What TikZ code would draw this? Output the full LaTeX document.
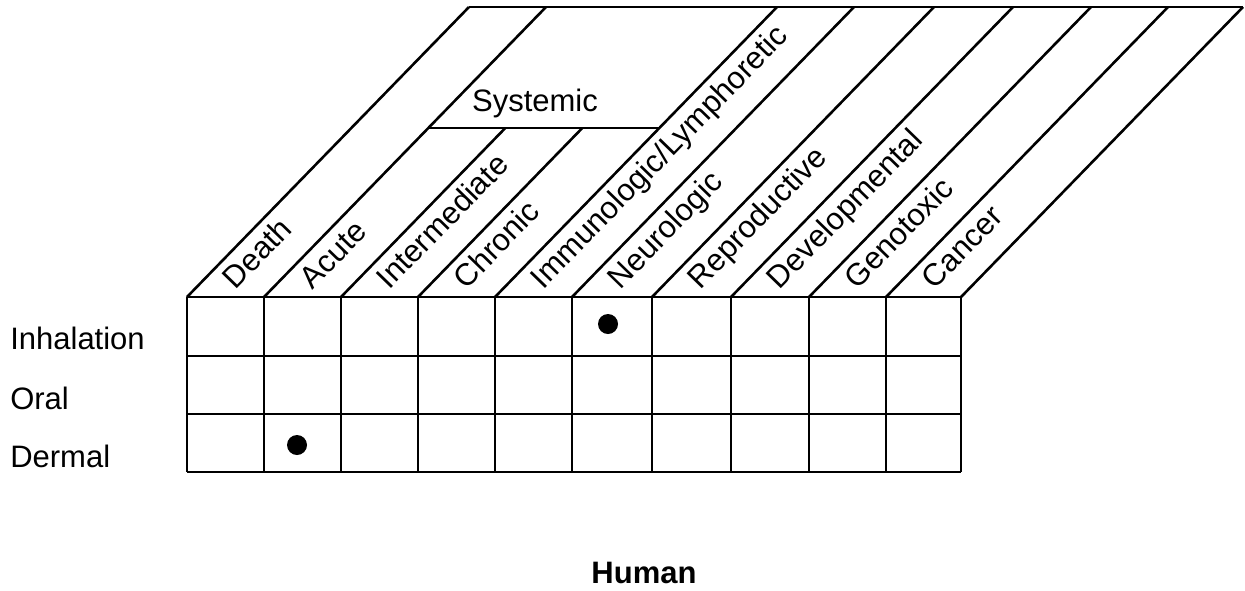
\documentclass[tikz,border=0pt]{standalone}
\usepackage{fontspec}
\setmainfont{Liberation Sans}
\begin{document}
\begin{tikzpicture}[x=0.5pt,y=-0.5pt,line width=1.3pt,
    txt/.style={inner sep=0pt,font=\fontsize{15.5}{18}\selectfont},
    collbl/.style={txt,anchor=base west,rotate=45.8},
    rowlbl/.style={txt,anchor=base west},
    dot/.style={circle,fill,inner sep=0pt,minimum size=10pt}]
  \useasboundingbox (0,0) rectangle (1245,590);
  % grid
  \foreach \y in {297,356,414,472}
    \draw (187,\y) -- (961,\y);
  \foreach \x in {187,264,341,418,495,572,652,731,809,886,961}
    \draw (\x,297) -- (\x,472);
  % slanted head
  \foreach \x in {187,264,495,572,652,731,809,886,961}
    \draw (\x,297) -- (\x+282,7);
  \foreach \x in {341,418}
    \draw (\x,297) -- (\x+164.3,128);
  \draw (469,7) -- (1243,7);
  \draw (428.3,128) -- (659.3,128);
  \node[txt,anchor=base] (sys) at (535,111) {Systemic};
  \foreach \x/\t/\n in {187/Death/death,264/Acute/acute,341/Intermediate/inter,
      418/Chronic/chron,495/Immunologic\slash Lymphoretic/immuno,572/Neurologic/neuro,
      652/Reproductive/repro,731/Developmental/devel,809/Genotoxic/geno,886/Cancer/cancer}
    \node[collbl] (\n) at (\x+48,291) {\t};
  \foreach \y/\t/\n in {349/Inhalation/inh,409/Oral/oral,467/Dermal/derm}
    \node[rowlbl] (\n) at (9,\y) {\t};
  \node[dot] (d1) at (608,324) {};
  \node[dot] (d2) at (297,445) {};
  %\node at (644,560) {Human};
  \node[txt,anchor=base,font=\fontsize{15.5}{18}\selectfont\bfseries] (human) at (644,583) {Human};
\end{tikzpicture}
\end{document}
